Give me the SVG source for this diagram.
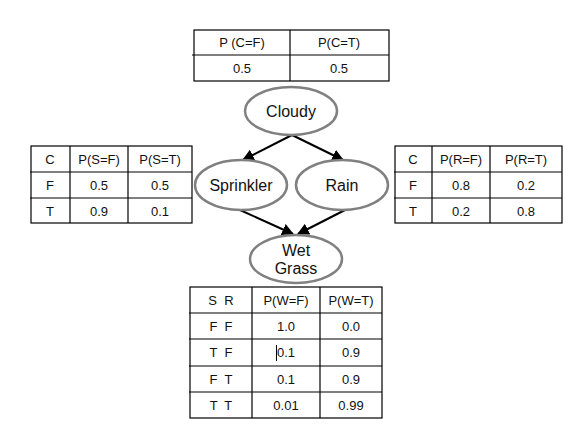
<svg xmlns="http://www.w3.org/2000/svg" width="571" height="430" viewBox="0 0 571 430">
<defs>
<style>
.tb{fill:none;stroke:#000;stroke-width:1.2}
.tl{stroke:#000;stroke-width:1.2}
.t{font-family:"Liberation Sans",Arial,sans-serif;font-size:13px;fill:#111;text-anchor:middle;white-space:pre}
.n{font-family:"Liberation Sans",Arial,sans-serif;font-size:16px;fill:#111;text-anchor:middle}
.el{fill:#fff;stroke:#808080;stroke-width:2.5}
.e{stroke:#000;stroke-width:2;fill:none;marker-end:url(#ah)}
</style>
<marker id="ah" viewBox="0 0 10 10" refX="9" refY="5" markerWidth="6" markerHeight="6" orient="auto" markerUnits="strokeWidth">
<path d="M0,0 L10,5 L0,10 z" fill="#000"/>
</marker>
</defs>
<rect width="571" height="430" fill="#fff"/>

<g id="table-cloudy">
<rect class="tb" x="194" y="30" width="195" height="51"/>
<line class="tl" x1="192" y1="55" x2="389" y2="55"/>
<line class="tl" x1="290" y1="30" x2="290" y2="81"/>
<text class="t" x="242" y="47">P (C=F)</text>
<text class="t" x="339" y="47">P(C=T)</text>
<text class="t" x="242" y="73">0.5</text>
<text class="t" x="339" y="73">0.5</text>
</g>

<g id="table-sprinkler">
<rect class="tb" x="31" y="146" width="161" height="77"/>
<line class="tl" x1="30" y1="172" x2="192" y2="172"/>
<line class="tl" x1="30" y1="198" x2="192" y2="198"/>
<line class="tl" x1="70" y1="146" x2="70" y2="223"/>
<line class="tl" x1="128" y1="146" x2="128" y2="223"/>
<text class="t" x="50" y="164">C</text>
<text class="t" x="99" y="164">P(S=F)</text>
<text class="t" x="160" y="164">P(S=T)</text>
<text class="t" x="50" y="190">F</text>
<text class="t" x="99" y="190">0.5</text>
<text class="t" x="160" y="190">0.5</text>
<text class="t" x="50" y="216">T</text>
<text class="t" x="99" y="216">0.9</text>
<text class="t" x="160" y="216">0.1</text>
</g>

<g id="table-rain">
<rect class="tb" x="395" y="146" width="167" height="77"/>
<line class="tl" x1="394" y1="172" x2="562" y2="172"/>
<line class="tl" x1="394" y1="198" x2="562" y2="198"/>
<line class="tl" x1="432" y1="146" x2="432" y2="223"/>
<line class="tl" x1="490" y1="146" x2="490" y2="223"/>
<text class="t" x="413" y="164">C</text>
<text class="t" x="461" y="164">P(R=F)</text>
<text class="t" x="526" y="164">P(R=T)</text>
<text class="t" x="413" y="190">F</text>
<text class="t" x="461" y="190">0.8</text>
<text class="t" x="526" y="190">0.2</text>
<text class="t" x="413" y="216">T</text>
<text class="t" x="461" y="216">0.2</text>
<text class="t" x="526" y="216">0.8</text>
</g>

<g id="table-wetgrass">
<rect class="tb" x="190" y="287" width="192" height="131"/>
<line class="tl" x1="189" y1="313" x2="382" y2="313"/>
<line class="tl" x1="189" y1="339" x2="382" y2="339"/>
<line class="tl" x1="189" y1="366" x2="382" y2="366"/>
<line class="tl" x1="189" y1="392" x2="382" y2="392"/>
<line class="tl" x1="252" y1="287" x2="252" y2="418"/>
<line class="tl" x1="320" y1="287" x2="320" y2="418"/>
<text class="t" x="221" y="305">S  R</text>
<text class="t" x="286" y="305">P(W=F)</text>
<text class="t" x="351" y="305">P(W=T)</text>
<text class="t" x="221" y="331">F  F</text>
<text class="t" x="286" y="331">1.0</text>
<text class="t" x="351" y="331">0.0</text>
<text class="t" x="221" y="357">T  F</text>
<text class="t" x="286" y="357">0.1</text>
<text class="t" x="351" y="357">0.9</text>
<line x1="276.5" y1="345" x2="276.5" y2="361" stroke="#000" stroke-width="1"/>
<text class="t" x="221" y="384">F  T</text>
<text class="t" x="286" y="384">0.1</text>
<text class="t" x="351" y="384">0.9</text>
<text class="t" x="221" y="410">T  T</text>
<text class="t" x="286" y="410">0.01</text>
<text class="t" x="351" y="410">0.99</text>
</g>

<g id="edges">
<line class="e" x1="292" y1="135" x2="243" y2="160"/>
<line class="e" x1="292" y1="135" x2="343" y2="160"/>
<line class="e" x1="240" y1="210" x2="293" y2="234"/>
<line class="e" x1="345" y1="210" x2="298" y2="234"/>
</g>

<g id="node-cloudy">
<ellipse class="el" cx="291" cy="111" rx="46" ry="24"/>
<text class="n" x="291" y="117">Cloudy</text>
</g>
<g id="node-sprinkler">
<ellipse class="el" cx="241" cy="185" rx="46" ry="25"/>
<text class="n" x="241" y="191">Sprinkler</text>
</g>
<g id="node-rain">
<ellipse class="el" cx="342" cy="185" rx="46" ry="25"/>
<text class="n" x="342" y="191">Rain</text>
</g>
<g id="node-wetgrass">
<ellipse class="el" cx="296" cy="259" rx="46" ry="24"/>
<text class="n" x="296" y="256">Wet</text>
<text class="n" x="296" y="274">Grass</text>
</g>
</svg>
